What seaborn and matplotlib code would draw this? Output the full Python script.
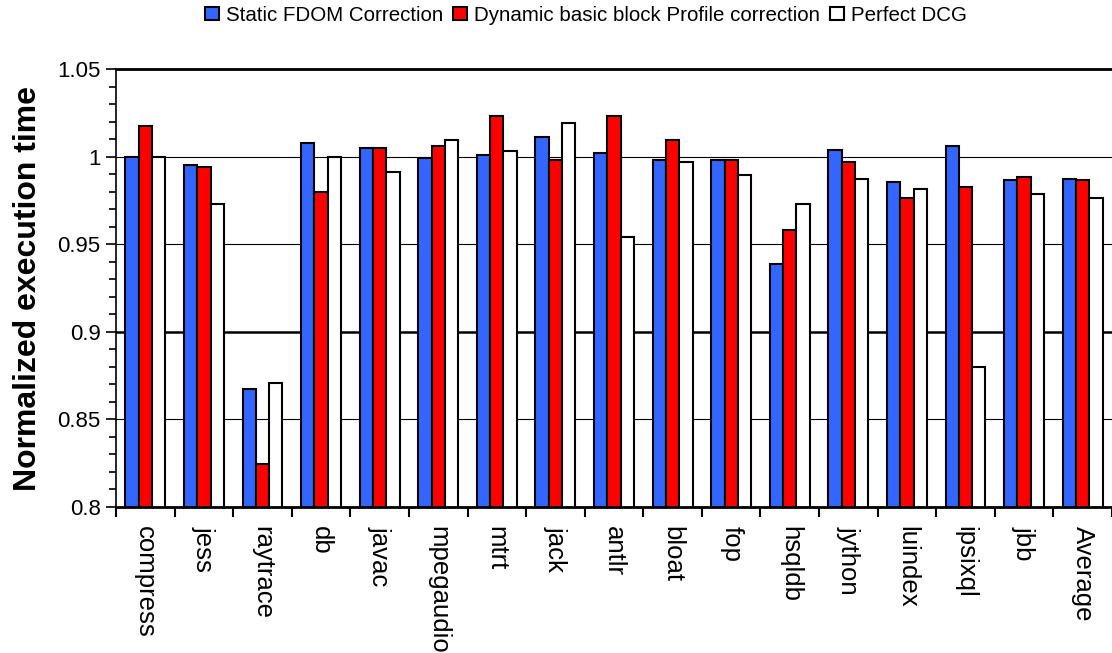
import matplotlib
matplotlib.use("Agg")
import matplotlib.pyplot as plt
from matplotlib.ticker import MultipleLocator, FixedLocator, FuncFormatter
import pandas as pd
import seaborn as sns

benchmarks = ["compress", "jess", "raytrace", "db", "javac", "mpegaudio", "mtrt", "jack",
              "antlr", "bloat", "fop", "hsqldb", "jython", "luindex", "ipsixql", "jbb", "Average"]
series_names = ["Static FDOM Correction", "Dynamic basic block Profile correction", "Perfect DCG"]

static_fdom = [1.000, 0.9954, 0.8675, 1.008, 1.0048, 0.9994, 1.001, 1.011, 1.002,
               0.998, 0.998, 0.9387, 1.0038, 0.9855, 1.006, 0.9865, 0.9874]
dynamic_bb = [1.0175, 0.9943, 0.8245, 0.980, 1.0048, 1.006, 1.023, 0.998, 1.023,
              1.0095, 0.998, 0.958, 0.997, 0.9764, 0.9829, 0.9886, 0.9865]
perfect_dcg = [1.000, 0.973, 0.871, 1.000, 0.991, 1.0095, 1.003, 1.019, 0.954,
               0.997, 0.9897, 0.973, 0.9874, 0.9817, 0.880, 0.9787, 0.9762]

colors = ["#3366FF", "#FF0000", "#FFFFFF"]

df = pd.DataFrame({
    "benchmark": benchmarks * 3,
    "series": [s for s in series_names for _ in benchmarks],
    "value": static_fdom + dynamic_bb + perfect_dcg,
})

sns.set_theme(style="white")
plt.rcParams["font.family"] = ["Liberation Sans", "DejaVu Sans"]
plt.rcParams["text.color"] = "black"
plt.rcParams["axes.labelcolor"] = "black"
plt.rcParams["xtick.color"] = "black"
plt.rcParams["ytick.color"] = "black"

fig = plt.figure(figsize=(11.12, 6.53), dpi=100)
ax = fig.add_axes([0.1043, 0.2236, 0.8957, 0.6707])

sns.barplot(data=df, x="benchmark", y="value", hue="series", order=benchmarks,
            hue_order=series_names, palette=colors, saturation=1, width=0.68, gap=0,
            edgecolor="black", linewidth=1.5, ax=ax, legend=True)

ax.set_ylim(0.8, 1.05)
ax.set_xlim(-0.5, len(benchmarks) - 0.5)
ax.yaxis.set_major_locator(MultipleLocator(0.05))
ax.yaxis.set_minor_locator(MultipleLocator(0.01))
ax.yaxis.set_major_formatter(FuncFormatter(lambda v, p: f"{v:.2f}".rstrip("0").rstrip(".")))
ax.yaxis.grid(True, which="major", color="black", linewidth=0.8)
ax.set_axisbelow(True)
for val, gl in zip(ax.get_yticks(), ax.yaxis.get_gridlines()):
    if abs(val - 0.9) < 1e-6:
        gl.set_linewidth(1.8)

ax.xaxis.set_minor_locator(FixedLocator([i - 0.5 for i in range(len(benchmarks) + 1)]))
ax.tick_params(axis="x", which="major", length=0, pad=14, labelsize=18.5, labelrotation=270)
ax.tick_params(axis="x", which="minor", length=7, width=1.5, direction="out", bottom=True)
ax.tick_params(axis="y", which="major", length=7, width=1.2, direction="out",
               left=True, labelsize=16, pad=4)
ax.tick_params(axis="y", which="minor", length=5, width=1.2, direction="out", left=True)

for side in ["top", "bottom"]:
    ax.spines[side].set_linewidth(2.0)
    ax.spines[side].set_color("black")
ax.spines["left"].set_linewidth(1.2)
ax.spines["left"].set_color("black")
ax.spines["right"].set_visible(False)

ax.set_xlabel("")
ax.set_ylabel("Normalized execution time", fontsize=23, fontweight="bold", labelpad=10)

handles, labels = ax.get_legend_handles_labels()
ax.get_legend().remove()
fig.legend(handles, labels, loc="center", bbox_to_anchor=(0.527, 0.977), ncol=3,
           frameon=False, fontsize=14.8, handlelength=0.65, handleheight=0.6,
           handletextpad=0.35, columnspacing=0.5, borderaxespad=0.0)

fig.savefig("out.png", dpi=100)
